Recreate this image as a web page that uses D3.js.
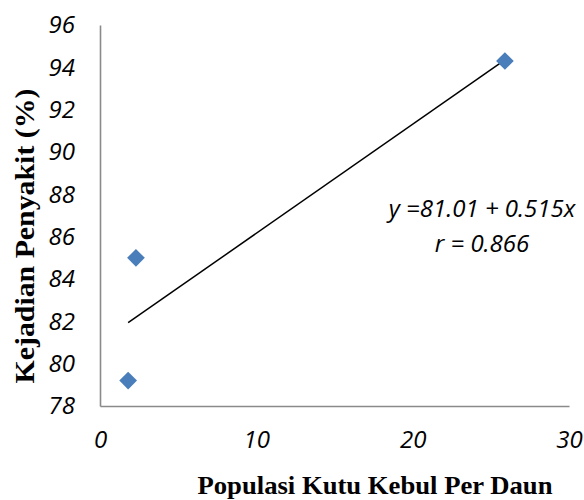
<!DOCTYPE html>
<html>
<head>
<meta charset="utf-8">
<script src="https://cdn.jsdelivr.net/npm/d3@7"></script>
<style>
  body { margin: 0; background: #fff; }
  svg { display: block; }
</style>
</head>
<body>
<div id="chart"></div>
<script>
// data
var populasi = [1.8, 2.3, 25.9];          // kutu kebul per daun
var kejadian = [79.2, 85.0, 94.3];        // kejadian penyakit (%)
var xTicks = [0, 10, 20, 30];
var yTicks = [78, 80, 82, 84, 86, 88, 90, 92, 94, 96];
var intercept = 81.01, slope = 0.515;     // regression from the label
var eqLabels = ["y =81.01 + 0.515x", "r = 0.866"];

var width = 584, height = 500;
var margin = { top: 25, right: 15, bottom: 94, left: 100 };
var w = width - margin.left - margin.right,
    h = height - margin.top - margin.bottom;

var svg = d3.select("#chart").append("svg")
  .attr("width", width)
  .attr("height", height);

var g = svg.append("g")
  .attr("transform", "translate(" + margin.left + "," + margin.top + ")");

var x = d3.scaleLinear().domain([0, 30]).range([0, w]);
var y = d3.scaleLinear().domain([78, 96]).range([h, 0]);

var tickFont = "'Open Sans', sans-serif";

// axes
var xAxis = g.append("g")
  .attr("transform", "translate(0," + h + ")")
  .call(d3.axisBottom(x).tickValues(xTicks).tickSize(0).tickPadding(25).tickFormat(d3.format("d")));
var yAxis = g.append("g")
  .call(d3.axisLeft(y).tickValues(yTicks).tickSize(0).tickPadding(25).tickFormat(d3.format("d")));

[xAxis, yAxis].forEach(function (a) {
  a.select(".domain").attr("stroke", "#8a8a8a").attr("stroke-width", 1.6);
  a.selectAll("text")
    .attr("fill", "#000")
    .style("font-family", tickFont)
    .style("font-style", "italic")
    .style("font-size", "24px");
});

// regression line
var x0 = d3.min(populasi), x1 = d3.max(populasi);
g.append("line")
  .attr("x1", x(x0)).attr("y1", y(intercept + slope * x0))
  .attr("x2", x(x1)).attr("y2", y(intercept + slope * x1))
  .attr("stroke", "#000")
  .attr("stroke-width", 1.5);

// points
var pts = populasi.map(function (d, i) { return { x: d, y: kejadian[i] }; });
g.selectAll("path.pt")
  .data(pts)
  .enter()
  .append("path")
  .attr("class", "pt")
  .attr("d", d3.symbol().type(d3.symbolDiamond2).size(200))
  .attr("transform", function (d) { return "translate(" + x(d.x) + "," + y(d.y) + ")"; })
  .attr("fill", "#4a7ebb");

// equation label
g.selectAll("text.eq")
  .data(eqLabels)
  .enter()
  .append("text")
  .attr("class", "eq")
  .attr("x", 382)
  .attr("y", function (d, i) { return 192 + i * 35; })
  .attr("text-anchor", "middle")
  .style("font-family", tickFont)
  .style("font-style", "italic")
  .style("font-size", "24px")
  .text(function (d) { return d; });

// axis titles
svg.append("text")
  .attr("x", 375)
  .attr("y", 494)
  .attr("text-anchor", "middle")
  .attr("textLength", 355)
  .attr("lengthAdjust", "spacingAndGlyphs")
  .style("font-family", "'Liberation Serif', 'Times New Roman', serif")
  .style("font-weight", "bold")
  .style("font-size", "26px")
  .text("Populasi Kutu Kebul Per Daun");

svg.append("text")
  .attr("transform", "translate(34,236) rotate(-90)")
  .attr("text-anchor", "middle")
  .attr("textLength", 295)
  .attr("lengthAdjust", "spacingAndGlyphs")
  .style("font-family", "'Liberation Serif', 'Times New Roman', serif")
  .style("font-weight", "bold")
  .style("font-size", "28px")
  .text("Kejadian Penyakit (%)");
</script>
</body>
</html>
